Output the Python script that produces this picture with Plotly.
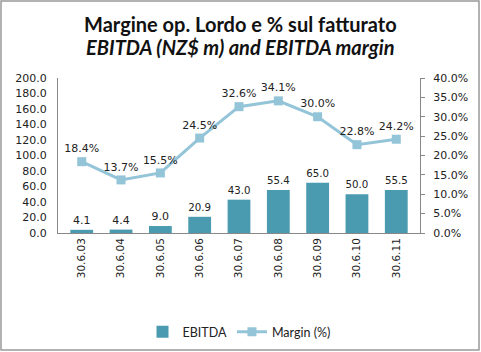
import plotly.graph_objects as go

categories = ["30.6.03", "30.6.04", "30.6.05", "30.6.06", "30.6.07", "30.6.08", "30.6.09", "30.6.10", "30.6.11"]
ebitda = [4.1, 4.4, 9.0, 20.9, 43.0, 55.4, 65.0, 50.0, 55.5]
margin = [18.4, 13.7, 15.5, 24.5, 32.6, 34.1, 30.0, 22.8, 24.2]

W, H = 481, 352
L, R, T, B = 58, 61, 78, 119
pw, ph = W - L - R, H - T - B

def py(pix):
    return (T + ph - pix) / ph

def px(pix):
    return (pix - L) / pw

fig = go.Figure()
fig.add_trace(go.Bar(
    x=categories, y=ebitda, name="EBITDA",
    marker=dict(color="#4a9bb0", line=dict(width=0)),
    text=[f"{v:.1f}" for v in ebitda], textposition="outside",
    textfont=dict(size=11, color="#222"), cliponaxis=False,
))
fig.add_trace(go.Scatter(
    x=categories, y=margin, name="Margin (%)", yaxis="y2",
    mode="lines+markers+text",
    line=dict(color="#93c4d8", width=3),
    marker=dict(symbol="square", size=9, color="#93c4d8"),
    text=[f"{v:.1f}%" for v in margin], textposition="top center",
    textfont=dict(size=11, color="#222"), cliponaxis=False,
))

fig.update_layout(
    width=W, height=H,
    margin=dict(l=L, r=R, t=T, b=B, autoexpand=False),
    paper_bgcolor="white", plot_bgcolor="white",
    font=dict(family="DejaVu Sans, Verdana, sans-serif", size=10.5, color="#222"),
    bargap=0.42,
    showlegend=True,
    legend=dict(orientation="h", x=0.5, xanchor="center", y=py(317), yanchor="top",
                font=dict(family="Lato, sans-serif", size=12.5, color="#222")),
    xaxis=dict(type="category", tickangle=-90, showline=True, linecolor="#888", linewidth=1,
               ticks="", showgrid=False, tickfont=dict(size=10.5), automargin=False),
    yaxis=dict(range=[0, 200], dtick=20, tickformat=".1f", showline=True, linecolor="#888",
               linewidth=1, showgrid=False, zeroline=False, ticks="", tickfont=dict(size=11),
               ticklabelstandoff=8, automargin=False),
    yaxis2=dict(range=[0, 40], dtick=5, ticksuffix="%", tickformat=".1f", overlaying="y",
                side="right", showline=True, linecolor="#888", linewidth=1, showgrid=False,
                zeroline=False, ticks="outside", ticklen=4, tickcolor="#888",
                tickfont=dict(size=11), ticklabelstandoff=6, automargin=False),
)

fig.add_annotation(text="<b>Margine op. Lordo e % sul fatturato</b>", xref="paper", yref="paper",
                   x=px(240), y=py(24), showarrow=False, xanchor="center", yanchor="middle",
                   font=dict(family="Lato, Open Sans, sans-serif", size=20, color="#111"))
fig.add_annotation(text="<b><i>EBITDA (NZ$ m) and EBITDA margin</i></b>", xref="paper", yref="paper",
                   x=px(240), y=py(47), showarrow=False, xanchor="center", yanchor="middle",
                   font=dict(family="Lato, Open Sans, sans-serif", size=20, color="#111"))

fig.add_shape(type="rect", xref="paper", yref="paper",
              x0=px(1), x1=px(W - 2), y0=py(H - 2), y1=py(1),
              line=dict(color="#999", width=1.5), fillcolor="rgba(0,0,0,0)", layer="below")

fig.write_html("out.html")
